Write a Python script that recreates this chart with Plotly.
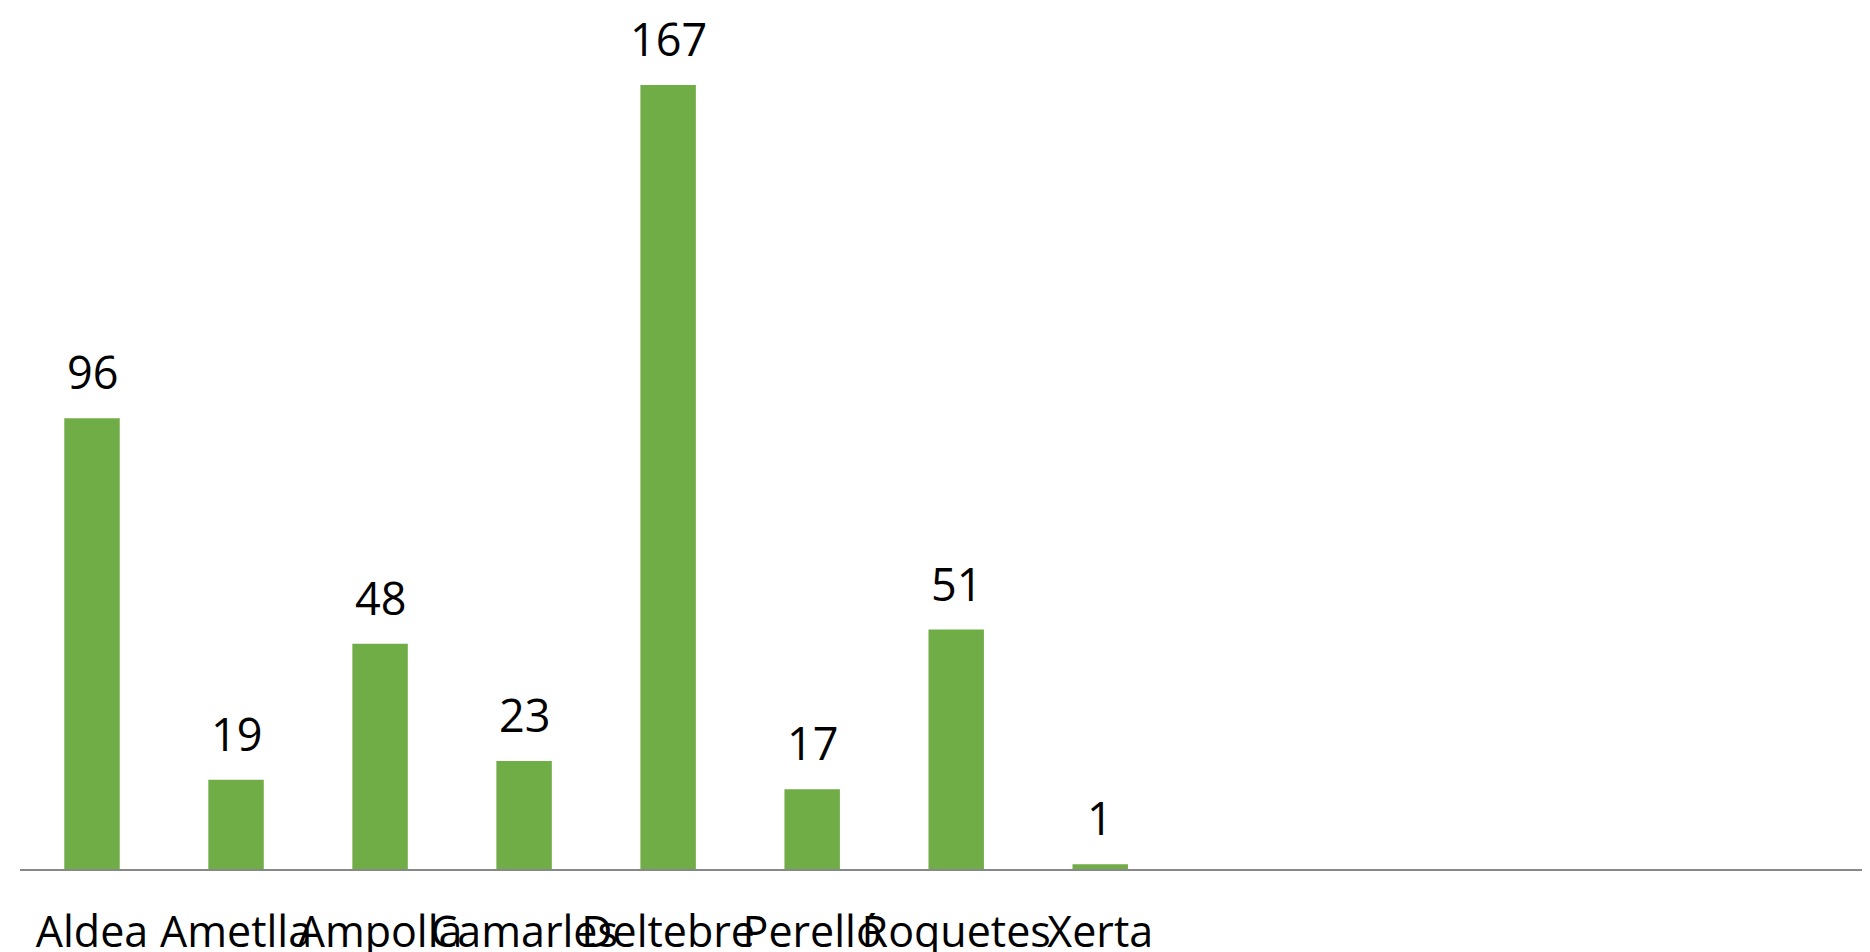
import plotly.graph_objects as go

# Data
towns = ["Aldea", "Ametlla", "Ampolla", "Camarles", "Deltebre", "Perelló", "Roquetes", "Xerta"]
counts = [96, 19, 48, 23, 167, 17, 51, 1]
positions = list(range(len(towns)))

bar_color = "#70AD47"
font_family = "Open Sans, Noto Sans, sans-serif"

fig = go.Figure(go.Bar(
    x=positions,
    y=counts,
    width=0.385,
    marker_color=bar_color,
    marker_line_width=0,
    hoverinfo="x+y",
))

# Value labels above each bar
for xi, v in zip(positions, counts):
    fig.add_annotation(
        x=xi, y=v, text=str(v), showarrow=False,
        yanchor="bottom", yshift=14,
        font=dict(family=font_family, size=45, color="#000000"),
    )

fig.update_layout(
    width=1870, height=952,
    margin=dict(l=12, r=0, t=16, b=86),
    paper_bgcolor="white",
    plot_bgcolor="white",
    showlegend=False,
    font=dict(family=font_family, size=43, color="#000000"),
)

fig.update_xaxes(
    range=[-0.5, 12.4],
    tickmode="array",
    tickvals=positions,
    ticktext=towns,
    tickangle=0,
    ticks="",
    ticklabelstandoff=24,
    showgrid=False,
    zeroline=False,
    showline=True,
    linecolor="#888888",
    linewidth=2,
    tickfont=dict(family=font_family, size=43, color="#000000"),
)
fig.update_yaxes(
    range=[0, 180],
    showticklabels=False,
    showgrid=False,
    zeroline=False,
    showline=False,
)

fig.write_html("out.html")
